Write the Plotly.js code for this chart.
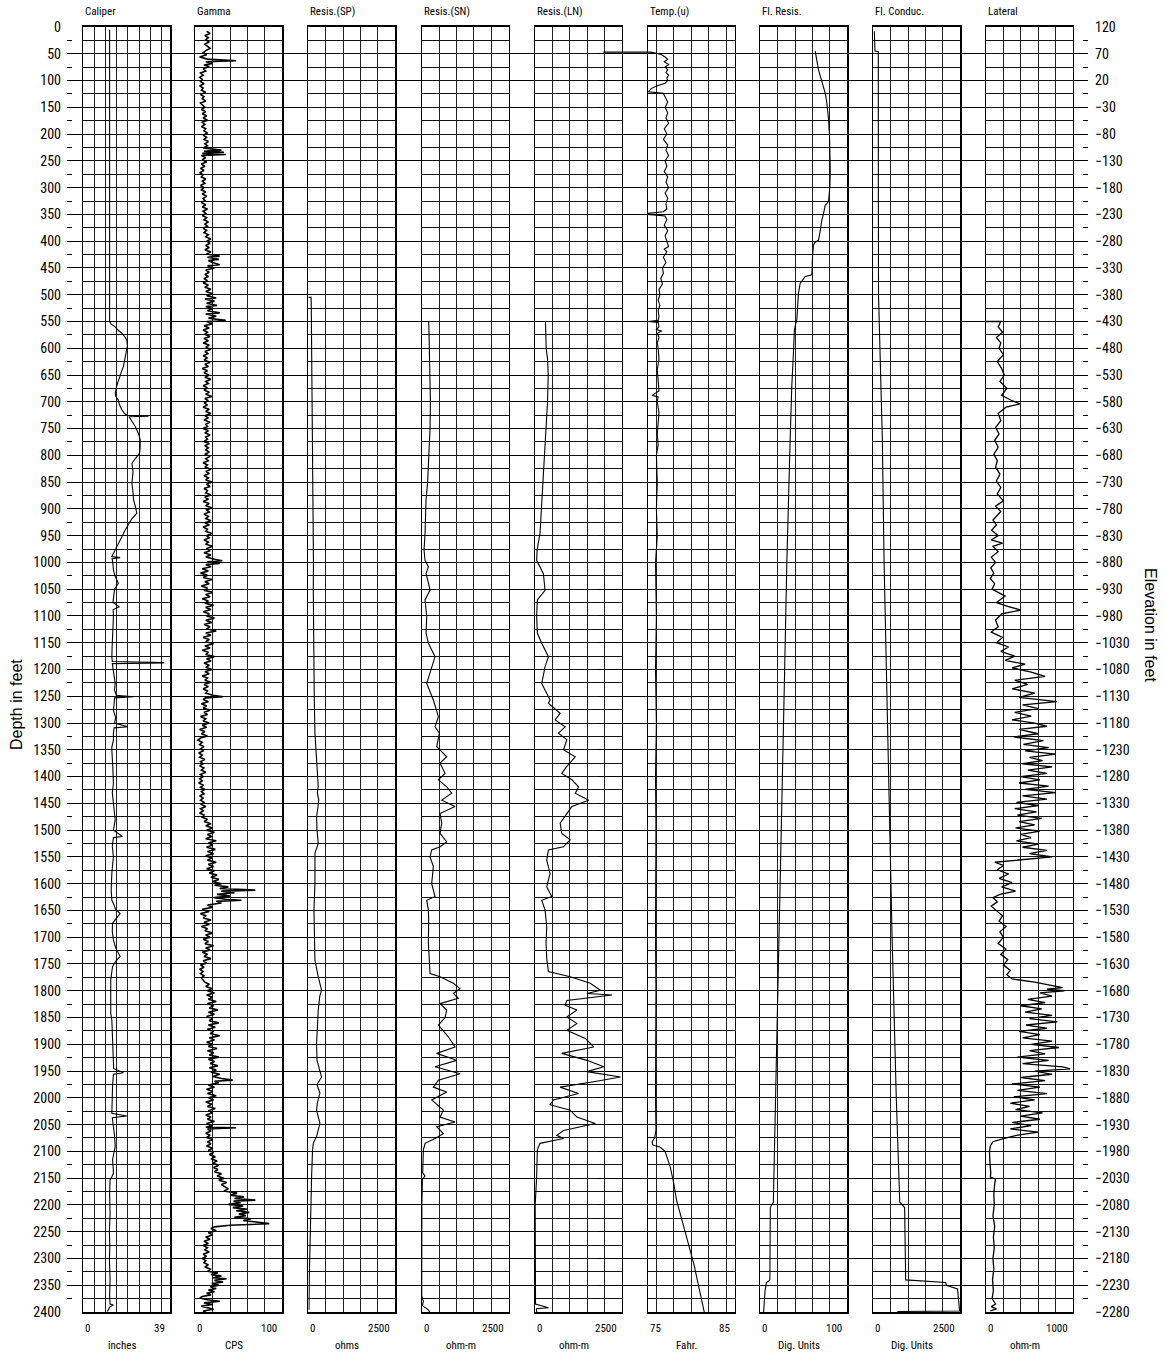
<!DOCTYPE html>
<html><head><meta charset="utf-8">
<script src="https://cdn.plot.ly/plotly-3.0.1.min.js"></script>
<style>html,body{margin:0;padding:0;background:#fff}</style>
</head><body><div id="chart" style="width:1165px;height:1353px"></div>
<script>
// ---------------- DATA (depth ft, value) ----------------
const trackTitles = ['Caliper','Gamma','Resis.(SP)','Resis.(SN)','Resis.(LN)','Temp.(u)','Fl. Resis.','Fl. Conduc.','Lateral'];
const trackUnits  = ['inches','CPS','ohms','ohm-m','ohm-m','Fahr.','Dig. Units','Dig. Units','ohm-m'];
const trackMin    = [0,0,0,0,0,75,0,0,0];
const trackMax    = [39,100,2500,2500,2500,85,100,2500,1000];
const trackMinLabel = ['0','0','0','0','0','75','0','0','0'];
const trackMaxLabel = ['39','100','2500','2500','2500','85','100','2500','1000'];
const gridStep    = [5,20,500,500,500,2,20,500,200];
const gridStart   = [0,0,0,0,0,76,0,0,0];
const depthRange  = [0,2400];
const elevationTop = 120;

const caliper = [[5,11.8],[550,11.8],[555,12.5],[560,14.3],[566,15.5],[572,17.3],[578,18.5],[585,19.5],[595,19.8],[610,19.1],[622,18.8],[634,18.0],[645,17.0],[659,15.7],[670,15.0],[684,14.3],[690,14.6],[697,15.7],[705,16.2],[715,17.3],[722,18.5],[725,19.5],[726,29.2],[727,29.2],[728,20.5],[735,21.5],[746,23.3],[760,24.8],[771,25.5],[785,25.5],[796,25.2],[805,23.5],[815,21.8],[830,22.3],[852,21.8],[870,22.3],[883,22.5],[895,23.3],[908,24.0],[920,21.5],[933,19.5],[943,18.3],[952,17.3],[962,16.0],[971,15.0],[978,14.0],[983,13.5],[989,12.8],[991,16.5],[993,12.9],[1000,13.2],[1014,13.5],[1025,14.2],[1039,15.7],[1050,14.0],[1064,13.5],[1075,13.3],[1083,16.2],[1088,13.4],[1101,13.5],[1120,13.2],[1139,13.1],[1160,12.9],[1176,12.8],[1185,13.0],[1187,36.0],[1188,36.0],[1189,13.0],[1201,13.5],[1215,14.0],[1226,14.3],[1238,14.0],[1248,14.8],[1251,22.5],[1253,14.0],[1265,13.8],[1276,13.5],[1290,14.5],[1300,14.0],[1307,20.0],[1309,13.8],[1320,13.5],[1332,13.5],[1345,12.8],[1351,12.8],[1380,13.2],[1413,13.5],[1430,13.0],[1450,13.5],[1470,13.8],[1481,14.3],[1500,13.5],[1512,17.5],[1514,13.5],[1530,13.0],[1550,13.5],[1580,12.8],[1612,12.5],[1631,12.8],[1637,13.5],[1648,14.5],[1656,16.5],[1664,15.0],[1674,13.1],[1690,13.0],[1705,13.5],[1720,14.5],[1736,16.5],[1745,14.5],[1755,13.1],[1780,12.3],[1810,12.2],[1842,12.3],[1855,12.8],[1880,13.0],[1904,13.1],[1923,13.5],[1945,13.6],[1953,18.0],[1956,13.5],[1979,13.1],[2000,13.0],[2029,12.8],[2034,19.5],[2037,13.0],[2054,13.5],[2070,14.0],[2091,14.3],[2105,13.5],[2116,13.1],[2130,13.4],[2141,13.5],[2150,12.5],[2153,12.0],[2180,11.8],[2216,12.0],[2250,11.7],[2278,11.9],[2300,11.7],[2340,12.0],[2370,11.8],[2385,12.0],[2387,13.5],[2390,12.0],[2399,10.8]];

const gamma = [[8,13],[12,17],[16,11],[20,15],[24,12],[28,16],[32,11],[36,14],[40,17],[44,12],[48,9],[52,13],[56,5],[60,14],[63,47],[65,12],[68,20],[71,10],[74,16],[78,9],[82,12],[86,6],[90,9],[94,5],[98,8],[102,6],[106,10],[110,5],[114,9],[118,7],[122,12],[126,6],[130,10],[134,8],[138,12],[142,6],[146,9],[150,11],[154,7],[158,12],[162,8],[166,13],[170,9],[174,14],[178,8],[182,11],[186,7],[190,12],[194,10],[198,14],[202,9],[206,13],[210,10],[214,15],[218,11],[222,14],[226,9],[230,30],[232,10],[234,33],[236,8],[238,35],[240,7],[244,12],[248,8],[252,13],[256,7],[260,11],[264,6],[268,10],[272,5],[276,9],[280,7],[284,12],[288,8],[292,11],[296,6],[300,10],[304,7],[308,12],[312,8],[316,13],[320,9],[324,11],[328,7],[332,12],[336,8],[340,14],[344,9],[348,12],[352,8],[356,13],[360,10],[364,15],[368,11],[372,14],[376,9],[380,13],[384,10],[388,15],[392,12],[396,18],[400,13],[404,17],[408,12],[412,16],[416,11],[420,18],[424,13],[428,28],[430,14],[434,27],[436,15],[440,20],[444,28],[446,14],[450,22],[454,12],[458,16],[462,11],[466,15],[470,10],[474,14],[478,9],[482,15],[486,11],[490,18],[494,12],[498,20],[502,13],[506,24],[508,11],[512,22],[516,13],[520,25],[522,12],[526,20],[530,14],[534,28],[536,12],[540,24],[544,15],[548,35],[550,13],[554,20],[558,10],[562,16],[566,9],[570,14],[574,11],[578,17],[582,10],[586,15],[590,9],[594,16],[598,12],[602,18],[606,11],[610,15],[614,9],[618,14],[622,10],[626,17],[630,11],[634,15],[638,8],[642,14],[646,10],[650,16],[654,11],[658,18],[662,12],[666,15],[670,9],[674,14],[678,10],[682,16],[686,12],[690,19],[694,11],[698,15],[702,10],[706,14],[710,9],[714,16],[718,12],[722,18],[726,11],[730,15],[734,10],[738,17],[742,12],[746,14],[750,9],[754,15],[758,11],[762,17],[766,12],[770,14],[774,10],[778,16],[782,11],[786,15],[790,12],[794,16],[798,11],[802,17],[806,12],[810,15],[814,9],[818,14],[822,11],[826,18],[830,12],[834,16],[838,10],[842,15],[846,12],[850,19],[854,13],[858,17],[862,10],[866,14],[870,12],[874,18],[878,11],[882,15],[886,9],[890,16],[894,12],[898,19],[902,13],[906,16],[910,10],[914,15],[918,12],[922,18],[926,11],[930,16],[934,9],[938,14],[942,12],[946,19],[950,13],[954,16],[958,10],[962,15],[966,12],[970,20],[974,13],[978,17],[982,10],[986,18],[990,12],[994,22],[997,31],[999,14],[1002,28],[1004,12],[1008,18],[1012,8],[1016,15],[1020,6],[1024,14],[1028,9],[1032,19],[1036,11],[1040,16],[1044,7],[1048,14],[1052,10],[1056,20],[1060,12],[1064,17],[1068,8],[1072,15],[1076,11],[1080,21],[1084,12],[1088,18],[1092,9],[1096,16],[1100,13],[1104,22],[1108,12],[1112,19],[1116,10],[1120,17],[1124,13],[1128,24],[1132,12],[1136,18],[1140,9],[1144,16],[1148,12],[1152,21],[1156,11],[1160,17],[1164,8],[1168,15],[1172,12],[1176,22],[1180,13],[1184,18],[1188,10],[1192,16],[1196,12],[1200,19],[1204,11],[1208,16],[1212,8],[1216,14],[1220,11],[1224,18],[1228,10],[1232,15],[1236,9],[1240,14],[1244,12],[1248,20],[1251,32],[1253,12],[1256,9],[1260,15],[1264,7],[1268,13],[1272,9],[1276,17],[1280,10],[1284,14],[1288,6],[1292,12],[1296,9],[1300,16],[1304,8],[1308,13],[1312,5],[1316,11],[1320,7],[1324,14],[1328,6],[1332,3],[1336,8],[1340,5],[1344,10],[1348,6],[1352,9],[1356,4],[1360,8],[1364,5],[1368,11],[1372,6],[1376,9],[1380,5],[1384,10],[1388,7],[1392,12],[1396,6],[1400,9],[1404,5],[1408,8],[1412,4],[1416,9],[1420,6],[1424,11],[1428,7],[1432,10],[1436,5],[1440,9],[1444,6],[1448,10],[1452,7],[1456,12],[1460,6],[1464,9],[1468,5],[1472,10],[1476,8],[1480,14],[1484,10],[1488,18],[1492,12],[1496,20],[1500,13],[1504,22],[1508,14],[1512,19],[1516,12],[1520,24],[1524,15],[1528,20],[1532,13],[1536,23],[1540,14],[1544,21],[1548,12],[1552,19],[1556,14],[1560,24],[1564,15],[1568,21],[1572,13],[1576,22],[1580,16],[1584,25],[1588,18],[1592,27],[1596,20],[1600,30],[1603,22],[1606,38],[1609,28],[1612,69],[1614,30],[1617,45],[1620,25],[1623,40],[1626,22],[1629,35],[1631,53],[1633,24],[1636,30],[1640,14],[1644,20],[1648,8],[1652,16],[1656,6],[1660,12],[1664,9],[1668,18],[1672,10],[1676,16],[1680,7],[1684,14],[1688,11],[1692,20],[1696,12],[1700,17],[1704,9],[1708,15],[1712,11],[1716,21],[1720,12],[1724,17],[1728,8],[1732,14],[1736,10],[1740,18],[1744,9],[1748,13],[1752,6],[1756,10],[1760,5],[1764,9],[1768,6],[1772,10],[1776,7],[1780,9],[1784,11],[1788,16],[1792,12],[1796,19],[1800,14],[1804,22],[1808,13],[1812,20],[1816,15],[1820,24],[1824,14],[1828,21],[1832,16],[1836,26],[1840,15],[1844,22],[1848,13],[1852,20],[1856,16],[1860,27],[1864,15],[1868,23],[1872,14],[1876,21],[1880,17],[1884,28],[1888,16],[1892,22],[1896,13],[1900,20],[1904,15],[1908,25],[1912,14],[1916,21],[1920,16],[1924,27],[1928,15],[1932,22],[1936,17],[1940,26],[1944,16],[1948,24],[1952,18],[1956,28],[1960,20],[1964,30],[1967,43],[1969,22],[1972,27],[1976,15],[1980,22],[1984,13],[1988,20],[1992,14],[1996,24],[2000,15],[2004,21],[2008,12],[2012,19],[2016,14],[2020,23],[2024,15],[2028,20],[2032,12],[2036,18],[2040,14],[2044,22],[2048,13],[2052,19],[2055,12],[2056,47],[2058,14],[2062,18],[2066,12],[2070,17],[2074,13],[2078,20],[2082,14],[2086,18],[2090,13],[2094,20],[2098,15],[2102,21],[2106,16],[2110,23],[2114,18],[2118,25],[2122,20],[2126,27],[2130,21],[2134,26],[2138,22],[2142,30],[2146,25],[2150,33],[2154,27],[2158,36],[2162,30],[2166,34],[2170,38],[2174,33],[2178,48],[2182,40],[2185,56],[2188,45],[2191,69],[2193,44],[2196,52],[2199,38],[2202,55],[2205,43],[2208,60],[2211,47],[2214,62],[2217,50],[2220,58],[2223,45],[2226,64],[2229,55],[2232,72],[2235,85],[2238,40],[2241,22],[2244,18],[2248,24],[2252,15],[2256,20],[2260,12],[2264,17],[2268,10],[2272,15],[2276,9],[2280,14],[2284,11],[2288,16],[2292,9],[2296,13],[2300,8],[2304,12],[2308,10],[2312,15],[2316,11],[2320,18],[2324,14],[2327,26],[2330,18],[2333,30],[2336,20],[2338,36],[2341,22],[2344,32],[2347,19],[2350,27],[2353,17],[2356,24],[2359,15],[2362,22],[2365,13],[2368,18],[2371,8],[2374,5],[2377,14],[2380,28],[2383,10],[2386,20],[2389,7],[2392,16],[2395,21],[2398,9],[2400,12]];

const resSP = [[505,0],[505,80],[520,85],[550,90],[600,100],[650,105],[700,110],[750,115],[800,120],[850,130],[883,143],[950,143],[1000,148],[1050,143],[1100,150],[1132,143],[1195,162],[1257,172],[1319,191],[1363,238],[1390,260],[1419,286],[1430,260],[1444,300],[1460,270],[1475,238],[1500,250],[1525,286],[1543,191],[1600,191],[1649,162],[1700,175],[1743,191],[1774,286],[1790,360],[1799,382],[1810,330],[1836,286],[1870,260],[1898,238],[1930,250],[1945,320],[1961,382],[1975,250],[1991,334],[2010,260],[2023,238],[2048,334],[2060,280],[2072,238],[2085,143],[2100,120],[2147,95],[2210,67],[2272,48],[2334,29],[2396,19]];

const resSN = [[550,0],[550,200],[570,210],[600,220],[650,235],[700,250],[750,240],[800,215],[850,170],[883,125],[910,115],[946,96],[977,67],[996,96],[1008,192],[1021,125],[1040,200],[1052,240],[1070,96],[1101,144],[1132,125],[1151,192],[1176,383],[1195,287],[1226,144],[1257,335],[1288,479],[1307,383],[1319,508],[1344,431],[1363,718],[1375,527],[1394,671],[1406,479],[1419,718],[1431,862],[1444,575],[1456,958],[1469,527],[1487,575],[1506,527],[1522,718],[1531,527],[1537,287],[1550,240],[1568,335],[1600,287],[1624,383],[1631,144],[1649,192],[1668,200],[1711,192],[1740,220],[1768,240],[1774,527],[1786,910],[1796,1102],[1805,910],[1814,1054],[1824,527],[1836,718],[1850,671],[1864,479],[1886,766],[1905,958],[1917,431],[1930,1006],[1942,383],[1955,1102],[1967,479],[1980,335],[1989,718],[2004,287],[2023,623],[2036,527],[2045,958],[2054,431],[2067,623],[2076,383],[2085,96],[2097,48],[2140,29],[2146,96],[2152,20],[2200,5],[2280,0],[2370,0],[2380,48],[2388,20],[2396,192],[2400,230]];

const resLN = [[550,0],[550,300],[570,310],[600,320],[620,360],[650,380],[700,360],[750,320],[800,280],[850,230],[883,193],[946,144],[977,60],[996,48],[1021,241],[1052,289],[1070,67],[1101,48],[1132,67],[1151,193],[1176,385],[1195,289],[1226,193],[1244,337],[1257,433],[1263,385],[1282,722],[1294,578],[1307,867],[1319,674],[1331,915],[1350,819],[1363,1156],[1381,915],[1394,770],[1406,1059],[1419,1252],[1431,1156],[1444,1541],[1456,1059],[1469,915],[1487,722],[1506,770],[1518,1011],[1531,819],[1537,385],[1556,337],[1581,433],[1606,337],[1624,482],[1631,193],[1649,289],[1680,337],[1711,318],[1740,337],[1764,385],[1774,1011],[1786,1589],[1799,1878],[1805,1493],[1808,2215],[1818,915],[1827,867],[1836,1204],[1849,915],[1861,1204],[1874,915],[1889,1445],[1905,1686],[1917,770],[1930,1493],[1942,1975],[1951,1493],[1961,2456],[1970,1686],[1980,722],[1992,1252],[2004,530],[2013,433],[2023,1011],[2036,1204],[2048,1734],[2061,819],[2070,626],[2076,819],[2085,144],[2097,67],[2147,48],[2200,5],[2300,0],[2385,15],[2392,385],[2394,40],[2400,50]];

const tempF = [[47,69.9],[47,75.3],[49,76.0],[52,76.6],[56,77.0],[60,77.3],[65,76.9],[70,77.4],[75,77.0],[80,77.3],[85,77.1],[90,77.4],[95,77.2],[100,77.3],[105,77.0],[110,76.0],[115,75.4],[121,75.07],[124,76.8],[130,77.0],[140,77.3],[150,77.0],[160,77.3],[170,77.1],[180,77.4],[190,76.9],[200,77.2],[210,76.8],[220,77.3],[230,77.1],[240,77.4],[250,77.0],[260,77.2],[270,76.9],[280,77.3],[290,77.1],[300,77.4],[310,77.0],[320,77.3],[330,77.1],[340,77.2],[345,76.8],[348,75.1],[350,75.07],[353,77.0],[360,77.2],[370,76.9],[380,77.3],[390,77.0],[400,77.2],[410,77.4],[415,76.9],[420,77.2],[430,76.8],[440,77.1],[450,76.7],[460,76.8],[470,76.5],[480,76.7],[490,76.3],[500,76.4],[510,76.2],[520,76.4],[530,76.2],[540,76.3],[548,76.2],[550,75.1],[552,76.2],[560,76.3],[565,76.0],[568,76.6],[572,76.1],[580,76.3],[590,76.1],[600,76.2],[620,76.3],[640,76.1],[660,76.2],[680,76.3],[688,75.5],[691,76.2],[700,76.1],[720,76.3],[740,76.2],[760,76.1],[780,76.2],[800,76.0],[850,76.1],[900,76.0],[950,76.1],[1000,75.9],[1100,76.0],[1200,75.9],[1300,76.0],[1400,75.9],[1500,75.95],[1600,75.9],[1700,75.9],[1800,75.95],[1900,75.9],[2000,75.9],[2060,75.95],[2075,75.8],[2082,75.5],[2088,75.6],[2092,76.4],[2100,77.0],[2130,77.6],[2160,78.0],[2190,78.3],[2220,78.8],[2250,79.3],[2280,79.8],[2310,80.3],[2340,80.7],[2370,81.1],[2400,81.5]];

const flResis = [[45,63.1],[60,64.5],[80,66.9],[100,70.5],[111,72.7],[125,74.8],[142,76.5],[160,77.8],[174,78.5],[205,79.6],[236,80.4],[267,80.4],[298,80.0],[325,78.5],[330,76.5],[333,74.6],[348,72.7],[360,70.8],[380,69.0],[398,66.9],[402,63],[407,61.1],[430,60.0],[463,59.3],[466,51.6],[479,45.8],[498,43.8],[547,42.0],[556,40.5],[566,39.2],[609,38.1],[671,36.2],[771,34.3],[900,32],[1000,30.5],[1200,28],[1400,25.5],[1600,23],[1800,20.5],[2000,18],[2100,16.5],[2195,15],[2200,13],[2205,11.5],[2340,11],[2345,7],[2360,5.5],[2390,4.5],[2400,3.8]];

const flConduc = [[8,29],[45,48],[46,144],[100,140],[300,145],[500,150],[771,260],[1000,310],[1300,400],[1500,470],[1700,540],[2000,660],[2195,760],[2205,900],[2340,930],[2345,2080],[2350,2100],[2357,2420],[2395,2480],[2398,2480],[2399,690]];

const lateral = [[550,0],[550,170],[560,140],[570,190],[580,120],[590,170],[600,150],[612,200],[625,130],[638,180],[650,210],[662,160],[675,240],[688,180],[698,300],[704,390],[710,230],[722,140],[735,170],[748,110],[760,150],[772,100],[785,140],[798,90],[810,130],[822,110],[835,160],[848,120],[860,170],[872,130],[885,200],[895,110],[905,170],[921,80],[930,120],[940,65],[950,140],[958,60],[964,190],[970,80],[980,140],[990,60],[1000,110],[1010,55],[1020,90],[1030,50],[1040,100],[1050,70],[1063,220],[1075,120],[1082,250],[1089,400],[1096,180],[1108,110],[1120,140],[1130,60],[1140,190],[1150,120],[1158,260],[1166,170],[1175,330],[1183,220],[1190,450],[1197,300],[1205,520],[1213,680],[1220,330],[1228,480],[1236,300],[1244,560],[1252,380],[1260,815],[1266,420],[1273,600],[1280,330],[1287,520],[1294,300],[1300,560],[1306,700],[1312,380],[1320,600],[1326,320],[1333,660],[1340,430],[1346,720],[1352,450],[1358,800],[1364,500],[1370,650],[1376,420],[1382,760],[1388,480],[1394,700],[1400,400],[1406,620],[1412,380],[1418,720],[1424,450],[1430,800],[1436,420],[1442,700],[1448,350],[1454,600],[1460,330],[1466,580],[1472,360],[1478,640],[1484,380],[1490,560],[1496,340],[1502,620],[1508,400],[1514,520],[1520,350],[1526,600],[1532,420],[1538,700],[1544,500],[1550,760],[1555,450],[1560,100],[1566,200],[1574,130],[1582,260],[1590,150],[1598,300],[1606,180],[1614,340],[1620,160],[1626,80],[1634,130],[1642,60],[1650,120],[1660,190],[1670,150],[1680,230],[1690,160],[1700,200],[1712,140],[1722,230],[1732,170],[1742,250],[1752,200],[1762,280],[1770,240],[1778,300],[1784,560],[1790,750],[1794,880],[1797,700],[1800,900],[1804,620],[1810,760],[1816,480],[1822,680],[1828,400],[1834,640],[1840,450],[1846,760],[1852,500],[1858,820],[1864,460],[1870,700],[1876,380],[1882,620],[1888,420],[1894,760],[1900,520],[1906,840],[1912,500],[1918,680],[1924,360],[1930,720],[1936,420],[1942,880],[1946,968],[1950,560],[1956,760],[1962,400],[1968,680],[1974,300],[1980,620],[1986,360],[1992,700],[1998,320],[2004,560],[2010,280],[2016,500],[2022,340],[2028,650],[2034,400],[2040,620],[2046,300],[2052,520],[2058,280],[2064,600],[2070,350],[2076,200],[2082,80],[2090,50],[2100,40],[2120,45],[2140,55],[2148,50],[2152,110],[2160,100],[2180,90],[2200,95],[2220,80],[2240,100],[2260,85],[2280,95],[2300,80],[2320,90],[2340,75],[2360,85],[2375,70],[2385,110],[2390,60],[2394,120],[2398,50]];

const curves = [caliper, gamma, resSP, resSN, resLN, tempF, flResis, flConduc, lateral];

// ---------------- LAYOUT GEOMETRY (pixels) ----------------
const FIG_W = 1165, FIG_H = 1353;
const PL = 67, PR = 1088, PT = 27, PB = 1312;
const PW = PR - PL, PH = PB - PT;
const trackLeftPx = [83.3,195.3,308.3,421.7,535,647.7,760.3,873.3,986];
const trackWidthPx = 87;
const lineWidths = [1.1,1.6,1.1,1.1,1.1,1.1,1.1,1.1,1.3];
const NARROW = "'Roboto Condensed', 'Liberation Sans Narrow', 'DejaVu Sans Condensed', sans-serif";
const REG = "'Liberation Sans', Arial, sans-serif";
const fx = px => (px - PL) / PW;
const fy = py => (PB - py) / PH;

const traces = [];
const layout = {
  width: FIG_W, height: FIG_H,
  margin: {l: PL, r: FIG_W - PR, t: PT, b: FIG_H - PB, pad: 0},
  paper_bgcolor: '#fff', plot_bgcolor: 'rgba(0,0,0,0)',
  showlegend: false,
  font: {family: NARROW, color: '#000', size: 11},
  xaxis: {domain: [0,1], range: [0,1], visible: false, fixedrange: true},
  yaxis: {
    domain: [0,1], range: [depthRange[1], depthRange[0]], autorange: false,
    tick0: 0, dtick: 50, showgrid: true, gridcolor: '#000', gridwidth: 1,
    zeroline: false, showline: false, ticks: '', ticklabelstandoff: 5,
    tickfont: {family: NARROW, size: 14, color: '#000'},
    minor: {dtick: 25, tick0: 0, ticks: 'inside', ticklen: 5, tickcolor: '#000', tickwidth: 1, showgrid: false},
    fixedrange: true
  },
  yaxis11: {
    overlaying: 'y', side: 'right', anchor: 'x',
    range: [elevationTop - depthRange[1], elevationTop - depthRange[0]], autorange: false,
    tick0: 20, dtick: 50, showgrid: false, zeroline: false, showline: false, ticks: '',
    ticklabelstandoff: 6,
    tickfont: {family: NARROW, size: 14, color: '#000'},
    minor: {dtick: 25, tick0: 20, ticks: 'inside', ticklen: 5, tickcolor: '#000', tickwidth: 1, showgrid: false},
    fixedrange: true
  },
  annotations: [],
  shapes: []
};

traces.push({type:'scatter', mode:'lines', x:[], y:[], xaxis:'x', yaxis:'y', hoverinfo:'skip'});
traces.push({type:'scatter', mode:'lines', x:[], y:[], xaxis:'x', yaxis:'y11', hoverinfo:'skip'});

for (let i = 0; i < 9; i++) {
  const n = i + 2;
  const L = trackLeftPx[i], R = L + trackWidthPx;
  layout['xaxis' + n] = {
    domain: [fx(L), fx(R)], range: [trackMin[i], trackMax[i]], autorange: false,
    anchor: 'y' + n, tick0: gridStart[i], dtick: gridStep[i],
    showgrid: true, gridcolor: '#222', gridwidth: 1, zeroline: false,
    showticklabels: false, ticks: '',
    showline: true, linecolor: '#000', linewidth: 2, mirror: true, fixedrange: true
  };
  layout['yaxis' + n] = {
    domain: [0,1], range: [depthRange[1], depthRange[0]], autorange: false,
    anchor: 'x' + n, tick0: 0, dtick: 25,
    showgrid: true, gridcolor: '#111', gridwidth: 1, zeroline: false,
    showticklabels: false, ticks: '',
    showline: true, linecolor: '#000', linewidth: 1.2, mirror: true, fixedrange: true
  };
  // empty trace so every track's axes and grid are always drawn
  traces.push({type:'scatter', mode:'lines', x:[null], y:[null], xaxis:'x' + n, yaxis:'y' + n, hoverinfo:'skip', showlegend:false});
  const c = curves[i];
  const useWide = (i === 5);
  traces.push({
    type: 'scatter', mode: 'lines',
    x: c.map(p => p[1]), y: c.map(p => p[0]),
    xaxis: useWide ? 'x12' : 'x' + n, yaxis: useWide ? 'y' : 'y' + n,
    line: {color: '#000', width: lineWidths[i]},
    hoverinfo: 'skip'
  });
  // track title
  layout.annotations.push({xref: 'x' + n + ' domain', yref: 'paper', x: 0, y: 1, xanchor: 'left', yanchor: 'bottom',
    yshift: 7, showarrow: false, text: trackTitles[i], font: {family: NARROW, size: 11, color: '#000'}});
  // scale ends
  layout.annotations.push({xref: 'x' + n + ' domain', yref: 'paper', x: 0, y: 0, xanchor: 'left', yanchor: 'top',
    xshift: 0, yshift: -8, showarrow: false, text: trackMinLabel[i], font: {family: NARROW, size: 11, color: '#000'}});
  layout.annotations.push({xref: 'x' + n + ' domain', yref: 'paper', x: 1, y: 0, xanchor: 'right', yanchor: 'top',
    xshift: -3, yshift: -8, showarrow: false, text: trackMaxLabel[i], font: {family: NARROW, size: 11, color: '#000'}});
  // units
  layout.annotations.push({xref: 'x' + n + ' domain', yref: 'paper', x: 0.45, y: 0, xanchor: 'center', yanchor: 'top',
    yshift: -25, showarrow: false, text: trackUnits[i], font: {family: NARROW, size: 11, color: '#000'}});
}

// temperature curve is drawn unclipped to the left (it starts off-scale), same scale as its track
{
  const R = trackLeftPx[5] + trackWidthPx;
  const pxPerUnit = trackWidthPx / (trackMax[5] - trackMin[5]);
  const extL = 598;
  layout.xaxis12 = {domain: [fx(extL), fx(R)], range: [trackMax[5] - (R - extL) / pxPerUnit, trackMax[5]],
    autorange: false, anchor: 'y', visible: false, showgrid: false, fixedrange: true};
}

// axis titles
layout.annotations.push({xref: 'paper', yref: 'paper', x: fx(16), y: fy(705), xanchor: 'center', yanchor: 'middle',
  textangle: -90, showarrow: false, text: 'Depth in feet', font: {family: REG, size: 16, color: '#000'}});
layout.annotations.push({xref: 'paper', yref: 'paper', x: fx(1151), y: fy(625), xanchor: 'center', yanchor: 'middle',
  textangle: 90, showarrow: false, text: 'Elevation in feet', font: {family: REG, size: 16, color: '#000'}});

Plotly.newPlot('chart', traces, layout, {displayModeBar: false, staticPlot: true});
</script></body></html>
